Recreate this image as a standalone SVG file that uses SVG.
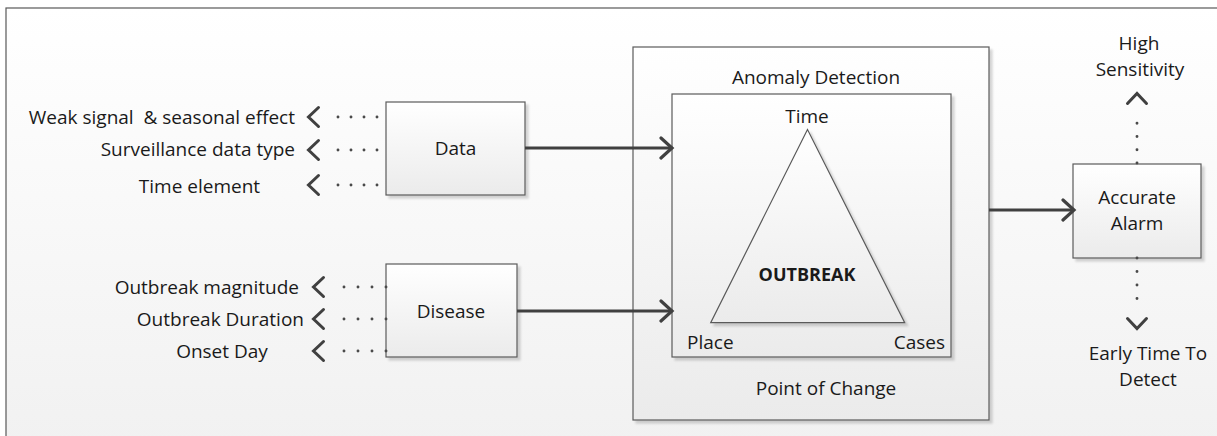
<svg xmlns="http://www.w3.org/2000/svg" width="1217" height="436" viewBox="0 0 1217 436">
<defs>
<linearGradient id="bg" x1="0" y1="0" x2="0" y2="1"><stop offset="0" stop-color="#ffffff"/><stop offset="1" stop-color="#efefef"/></linearGradient>
<linearGradient id="boxfill" x1="0" y1="0" x2="0" y2="1"><stop offset="0" stop-color="#ffffff"/><stop offset="1" stop-color="#ebebeb"/></linearGradient>
<filter id="sh" x="-5%" y="-5%" width="115%" height="115%"><feDropShadow dx="3" dy="3" stdDeviation="0.8" flood-color="#000" flood-opacity="0.16"/></filter>
<marker id="arr" markerUnits="userSpaceOnUse" markerWidth="16" markerHeight="24" viewBox="0 0 16 24" refX="13" refY="12" orient="auto"><path d="M2,2 L13,12 L2,22" fill="none" stroke="#404040" stroke-width="3.2" stroke-linecap="round" stroke-linejoin="miter"/></marker>
<marker id="chev" markerUnits="userSpaceOnUse" markerWidth="22" markerHeight="24" viewBox="0 0 22 24" refX="0" refY="12" orient="auto"><path d="M6.5,2.5 L16.5,12 L6.5,21.5" fill="none" stroke="#404040" stroke-width="3" stroke-linecap="round"/></marker>
<style>
.t{font-family:"Open Sans","Liberation Sans",sans-serif;font-size:19px;fill:#1a1a1a}
.b{font-weight:bold;font-size:18px}
.box{fill:url(#boxfill);stroke:#5a5a5a;stroke-width:1.2;filter:url(#sh)}
.main{fill:none;stroke:#404040;stroke-width:3.2;marker-end:url(#arr)}
.dot{fill:none;stroke:#4a4a4a;stroke-width:2.9;stroke-linecap:round;marker-end:url(#chev)}
</style>
</defs>
<rect x="0" y="0" width="1217" height="436" fill="#ffffff"/>
<rect id="frame" x="6" y="8" width="1300" height="500" fill="url(#bg)" stroke="#595959" stroke-width="1.2"/>

<g id="anomaly">
<rect class="box" x="633" y="47" width="356" height="373"/>
<text class="t" x="816" y="84" text-anchor="middle">Anomaly Detection</text>
<text class="t" x="826" y="395" text-anchor="middle">Point of Change</text>
</g>
<g id="outbreak-panel">
<rect class="box" x="672" y="94" width="279" height="263"/>
<polygon class="box" points="807.5,129.5 710.7,322.7 904.7,322.7"/>
<text class="t" x="807" y="123" text-anchor="middle">Time</text>
<text class="t b" x="807" y="281" text-anchor="middle">OUTBREAK</text>
<text class="t" x="687" y="349">Place</text>
<text class="t" x="945" y="349" text-anchor="end">Cases</text>
</g>
<g id="data">
<rect class="box" x="386" y="102" width="139" height="93"/>
<text class="t" x="455.5" y="155" text-anchor="middle">Data</text>
</g>
<g id="disease">
<rect class="box" x="386" y="264" width="131" height="93"/>
<text class="t" x="451" y="318" text-anchor="middle">Disease</text>
</g>
<g id="alarm">
<rect class="box" x="1073" y="164" width="128" height="94"/>
<text class="t" x="1137" y="204" text-anchor="middle">Accurate</text>
<text class="t" x="1137" y="230" text-anchor="middle">Alarm</text>
</g>

<g id="labels">
<text class="t" x="295" y="124" text-anchor="end" xml:space="preserve">Weak signal  &amp; seasonal effect</text>
<text class="t" x="295" y="156" text-anchor="end">Surveillance data type</text>
<text class="t" x="199.5" y="193" text-anchor="middle">Time element</text>
<text class="t" x="299" y="294" text-anchor="end">Outbreak magnitude</text>
<text class="t" x="304" y="326" text-anchor="end">Outbreak Duration</text>
<text class="t" x="222" y="358" text-anchor="middle">Onset Day</text>
<text class="t" x="1139" y="50" text-anchor="middle">High</text>
<text class="t" x="1140" y="76" text-anchor="middle">Sensitivity</text>
<text class="t" x="1148" y="360" text-anchor="middle">Early Time To</text>
<text class="t" x="1148" y="386" text-anchor="middle">Detect</text>
</g>

<g id="connectors">
<line class="main" x1="525" y1="148" x2="672" y2="148"/>
<line class="main" x1="517" y1="311" x2="672" y2="311"/>
<line class="main" x1="989" y1="210" x2="1074" y2="210"/>
<line class="dot" x1="377" y1="117" x2="325" y2="117" stroke-dasharray="0 13"/>
<line class="dot" x1="377" y1="150" x2="325" y2="150" stroke-dasharray="0 13"/>
<line class="dot" x1="377" y1="185" x2="325" y2="185" stroke-dasharray="0 13"/>
<line class="dot" x1="386" y1="287" x2="330" y2="287" stroke-dasharray="0 14"/>
<line class="dot" x1="386" y1="319" x2="330" y2="319" stroke-dasharray="0 14"/>
<line class="dot" x1="386" y1="351" x2="330" y2="351" stroke-dasharray="0 14"/>
<line class="dot" x1="1137" y1="163" x2="1137" y2="110" stroke-dasharray="0 13.25"/>
<line class="dot" x1="1137" y1="258" x2="1137" y2="312" stroke-dasharray="0 13.5"/>
</g>
</svg>
